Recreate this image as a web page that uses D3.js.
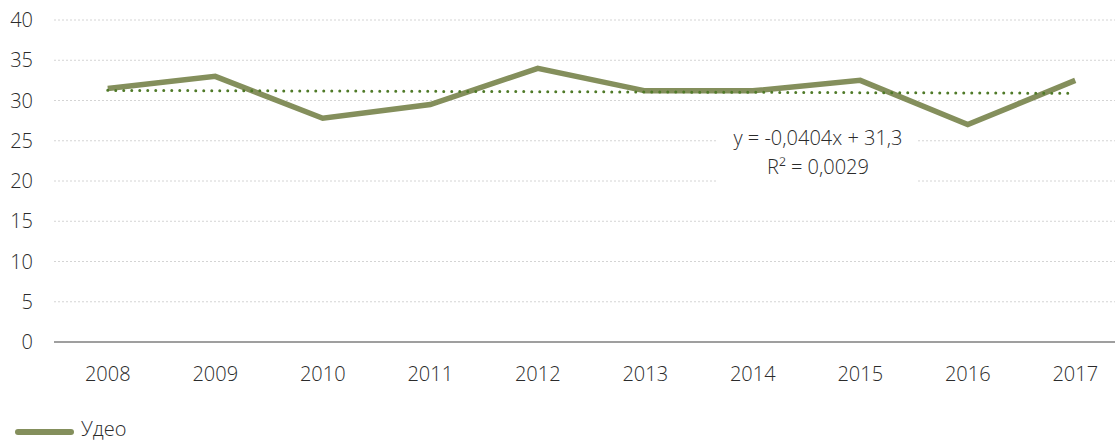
<!DOCTYPE html>
<html>
<head>
<meta charset="utf-8">
<script src="https://cdn.jsdelivr.net/npm/d3@7"></script>
<style>
  html, body { margin: 0; padding: 0; background: #fff; }
  svg { display: block; }
  text { font-family: "Open Sans", "Noto Sans", sans-serif; fill: #2b2b2b; font-weight: 300; }
</style>
</head>
<body>
<svg id="chart" width="1115" height="442"></svg>
<script>
const years = ["2008","2009","2010","2011","2012","2013","2014","2015","2016","2017"];
const udeo = [31.5, 33.0, 27.8, 29.5, 34.0, 31.2, 31.2, 32.5, 27.0, 32.5];
const yTicks = [0, 5, 10, 15, 20, 25, 30, 35, 40];
const seriesName = "Удео";
const trendSlope = -0.0404;
const trendIntercept = 31.3;
const eqLines = ["y = -0,0404x + 31,3", "R² = 0,0029"];

const svg = d3.select("#chart");
const W = 1115;
const x = d3.scalePoint().domain(years).range([54, 1129]).padding(0.5);
const y = d3.scaleLinear().domain([0, 40]).range([342, 20]);

// gridlines
svg.append("g").selectAll("line").data(yTicks.filter(d => d > 0)).join("line")
  .attr("x1", 54).attr("x2", W)
  .attr("y1", d => y(d)).attr("y2", d => y(d))
  .attr("stroke", "#d4d4d4").attr("stroke-width", 1)
  .attr("stroke-dasharray", "2,2");

// y labels
svg.append("g").selectAll("text").data(yTicks).join("text")
  .attr("x", 33).attr("y", d => y(d)).attr("dy", "0.35em")
  .attr("text-anchor", "end").attr("font-size", 20)
  .text(d => d);

// x axis line
svg.append("line").attr("x1", 54).attr("x2", W)
  .attr("y1", y(0)).attr("y2", y(0))
  .attr("stroke", "#7f7f7f").attr("stroke-width", 1.5);

// x labels
svg.append("g").selectAll("text").data(years).join("text")
  .attr("x", d => x(d)).attr("y", 381)
  .attr("text-anchor", "middle").attr("font-size", 20)
  .text(d => d);

// series line
const line = d3.line().x((d, i) => x(years[i])).y(d => y(d));
svg.append("path").datum(udeo)
  .attr("d", line).attr("fill", "none")
  .attr("stroke", "#848f5c").attr("stroke-width", 5.5)
  .attr("stroke-linejoin", "miter").attr("stroke-linecap", "butt");

// trend line (dotted)
const trendPts = years.map((yr, i) => [x(yr), y(trendSlope * (i + 1) + trendIntercept)]);
svg.append("path").datum(trendPts)
  .attr("d", d3.line())
  .attr("fill", "none").attr("stroke", "#4f7a28").attr("stroke-width", 3)
  .attr("stroke-linecap", "round").attr("stroke-dasharray", "0,8");

// equation label box
svg.append("rect").attr("x", 718).attr("y", 120).attr("width", 200).attr("height", 62)
  .attr("fill", "#fff");
svg.append("g").selectAll("text").data(eqLines).join("text")
  .attr("x", 818).attr("y", (d, i) => 145 + i * 29)
  .attr("text-anchor", "middle").attr("font-size", 20)
  .text(d => d);

// legend
svg.append("line").attr("x1", 18).attr("x2", 71).attr("y1", 432).attr("y2", 432)
  .attr("stroke", "#848f5c").attr("stroke-width", 6).attr("stroke-linecap", "round");
svg.append("text").attr("x", 81).attr("y", 436).attr("font-size", 20).text(seriesName);
</script>
</body>
</html>
